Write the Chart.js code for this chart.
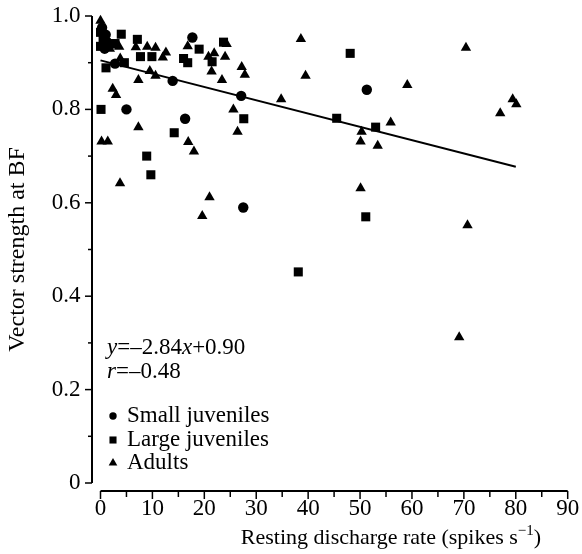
<!DOCTYPE html>
<html><head><meta charset="utf-8">
<script src="https://cdn.jsdelivr.net/npm/chart.js@4/dist/chart.umd.min.js"></script>
<style>html,body{margin:0;padding:0;background:#fff}</style>
</head><body>
<canvas id="c" width="582" height="554"></canvas>
<script>
// ---- data ----
const smallX = [0.3, 1.0, 1.2, 0.8, 2.8, 5.0, 13.9, 16.3, 17.7, 27.1, 27.5, 51.3];
const smallY = [0.975, 0.96, 0.945, 0.93, 0.898, 0.80, 0.861, 0.78, 0.954, 0.829, 0.59, 0.842];

const largeX = [0, 0.5, 0, 2.0, 2.8, 4.0, 7.1, 1.06, 4.6, 7.7, 9.9, 16.0, 16.8, 19.0, 21.5, 23.7, 0.1, 14.2, 27.6, 8.9, 9.7, 38.1, 45.5, 48.1, 53.0, 51.1];
const largeY = [0.965, 0.95, 0.935, 0.94, 0.941, 0.961, 0.95, 0.889, 0.90, 0.913, 0.913, 0.909, 0.90, 0.929, 0.902, 0.944, 0.80, 0.75, 0.78, 0.70, 0.66, 0.452, 0.781, 0.92, 0.762, 0.570];

const adultX = [0, 1.8, 3.6, 3.8, 6.8, 9.0, 10.6, 12.6, 12.0, 7.3, 9.5, 10.6, 2.35, 3.0, 16.8, 20.8, 21.9, 24.3, 24.0, 21.4, 23.4, 27.2, 27.8, 25.6, 26.4, 0.2, 1.4, 7.3, 16.9, 18.0, 3.76, 21.0, 19.6, 38.6, 39.5, 34.8, 50.3, 50.1, 50.1, 53.4, 55.9, 59.1, 70.4, 70.7, 69.1, 77.0, 79.4, 80.1];
const adultY = [0.99, 0.93, 0.934, 0.909, 0.933, 0.934, 0.932, 0.922, 0.911, 0.863, 0.882, 0.872, 0.844, 0.831, 0.935, 0.913, 0.92, 0.94, 0.913, 0.881, 0.863, 0.891, 0.874, 0.80, 0.752, 0.731, 0.731, 0.762, 0.73, 0.71, 0.642, 0.612, 0.572, 0.951, 0.872, 0.822, 0.752, 0.731, 0.631, 0.722, 0.772, 0.852, 0.932, 0.552, 0.312, 0.792, 0.822, 0.811];

const fitX = [0, 80];
const fitY = [0.905, 0.677];

const seriesNames = ['Small juveniles', 'Large juveniles', 'Adults'];
const xMajorTicks = [0, 10, 20, 30, 40, 50, 60, 70, 80, 90];
const xMinorTicks = [5, 15, 25, 35, 45, 55, 65, 75, 85];
const yMajorTicks = [0, 0.2, 0.4, 0.6, 0.8, 1.0];
const yMinorTicks = [0.1, 0.3, 0.5, 0.7, 0.9];
const yTickLabels = ['0', '0.2', '0.4', '0.6', '0.8', '1.0'];
const xTitle = 'Resting discharge rate (spikes s';
const xTitleSup = '\u22121';
const yTitle = 'Vector strength at BF';
const eqLine1 = [['y', true], ['=\u20132.84', false], ['x', true], ['+0.90', false]];
const eqLine2 = [['r', true], ['=\u20130.48', false]];

// ---- chart ----
const FONT = "'Liberation Serif', 'Times New Roman', serif";
Chart.defaults.font.family = FONT;
Chart.defaults.font.size = 23;
Chart.defaults.color = '#000';

const pts = (xs, ys) => xs.map((x, i) => ({x: x, y: ys[i]}));

function drawMarker(ctx, style, x, y, r) {
  ctx.beginPath();
  if (style === 'circle') {
    ctx.arc(x, y, r, 0, Math.PI * 2);
  } else if (style === 'rect') {
    const s = r * Math.SQRT1_2;
    ctx.rect(x - s, y - s, 2 * s, 2 * s);
  } else {
    ctx.moveTo(x, y - r);
    ctx.lineTo(x + r * Math.sin(Math.PI / 3), y + r / 2);
    ctx.lineTo(x - r * Math.sin(Math.PI / 3), y + r / 2);
    ctx.closePath();
  }
  ctx.fill();
}

const decor = {
  id: 'decor',
  afterDraw(chart) {
    const ctx = chart.ctx, xs = chart.scales.x, ys = chart.scales.y;
    ctx.save();
    ctx.strokeStyle = '#000'; ctx.fillStyle = '#000'; ctx.lineWidth = 2;
    // y axis (detached)
    const ax = xs.getPixelForValue(0) - 8.5;
    ctx.beginPath();
    ctx.moveTo(ax, ys.getPixelForValue(1));
    ctx.lineTo(ax, ys.getPixelForValue(0));
    ctx.stroke();
    ctx.lineWidth = 1.5;
    yMajorTicks.forEach(v => { const p = ys.getPixelForValue(v); ctx.beginPath(); ctx.moveTo(ax - 7, p); ctx.lineTo(ax, p); ctx.stroke(); });
    yMinorTicks.forEach(v => { const p = ys.getPixelForValue(v); ctx.beginPath(); ctx.moveTo(ax - 4, p); ctx.lineTo(ax, p); ctx.stroke(); });
    // x axis (detached)
    const ay = ys.getPixelForValue(0) + 8;
    ctx.lineWidth = 2;
    ctx.beginPath();
    ctx.moveTo(xs.getPixelForValue(0), ay);
    ctx.lineTo(xs.getPixelForValue(90), ay);
    ctx.stroke();
    ctx.lineWidth = 1.5;
    xMajorTicks.forEach(v => { const p = xs.getPixelForValue(v); ctx.beginPath(); ctx.moveTo(p, ay); ctx.lineTo(p, ay + 8); ctx.stroke(); });
    xMinorTicks.forEach(v => { const p = xs.getPixelForValue(v); ctx.beginPath(); ctx.moveTo(p, ay); ctx.lineTo(p, ay + 6); ctx.stroke(); });

    // x title with superscript
    ctx.textBaseline = 'alphabetic';
    ctx.font = '22px ' + FONT;
    const w1 = ctx.measureText(xTitle).width;
    ctx.font = '15px ' + FONT;
    const w2 = ctx.measureText(xTitleSup).width;
    ctx.font = '22px ' + FONT;
    const w3 = ctx.measureText(')').width;
    let tx = 391 - (w1 + w2 + w3) / 2;
    const tb = 544;
    ctx.textAlign = 'left';
    ctx.fillText(xTitle, tx, tb); tx += w1;
    ctx.font = '15px ' + FONT;
    ctx.fillText(xTitleSup, tx, tb - 9); tx += w2;
    ctx.font = '22px ' + FONT;
    ctx.fillText(')', tx, tb);

    // equation
    const drawRich = (parts, x, y) => {
      parts.forEach(([t, it]) => {
        ctx.font = (it ? 'italic ' : '') + '23px ' + FONT;
        ctx.fillText(t, x, y);
        x += ctx.measureText(t).width;
      });
    };
    ctx.textBaseline = 'middle';
    drawRich(eqLine1, 107, 348);
    drawRich(eqLine2, 107, 372);

    // legend
    const styles = ['circle', 'rect', 'triangle'];
    const rows = [416, 440, 463];
    ctx.font = '23px ' + FONT;
    seriesNames.forEach((n, i) => {
      drawMarker(ctx, styles[i], 113, rows[i], i === 0 ? 3.7 : 5);
      ctx.fillText(n, 127, rows[i]);
    });
    ctx.restore();
  }
};

const common = {backgroundColor: '#000', borderColor: '#000', borderWidth: 0};
new Chart(document.getElementById('c'), {
  type: 'scatter',
  data: {
    datasets: [
      {label: 'fit', data: pts(fitX, fitY), showLine: true, pointRadius: 0, borderColor: '#000', borderWidth: 2, fill: false},
      Object.assign({label: seriesNames[0], data: pts(smallX, smallY), pointStyle: 'circle', pointRadius: 5.2}, common),
      Object.assign({label: seriesNames[1], data: pts(largeX, largeY), pointStyle: 'rect', pointRadius: 6.4}, common),
      Object.assign({label: seriesNames[2], data: pts(adultX, adultY), pointStyle: 'triangle', pointRadius: 6}, common)
    ]
  },
  options: {
    responsive: false,
    animation: false,
    clip: false,
    layout: {padding: {top: 16, right: 14.3, left: 0, bottom: 0}},
    plugins: {legend: {display: false}, tooltip: {enabled: false}},
    scales: {
      x: {
        type: 'linear', min: 0, max: 90,
        grid: {display: false, drawTicks: false}, border: {display: false},
        afterFit: s => { s.height = 71; s.paddingLeft = 0; s.paddingRight = 0; },
        ticks: {stepSize: 10, padding: 12, autoSkip: false, maxRotation: 0, callback: v => String(v)}
      },
      y: {
        type: 'linear', min: 0, max: 1,
        grid: {display: false, drawTicks: false}, border: {display: false},
        afterFit: s => { s.width = 100.5; s.paddingTop = 0; s.paddingBottom = 0; },
        ticks: {stepSize: 0.2, padding: 20, callback: (v, i) => yTickLabels[i]},
        title: {display: true, text: yTitle, font: {size: 24}, padding: {top: 3, bottom: 0}}
      }
    }
  },
  plugins: [decor]
});
</script>
</body></html>
